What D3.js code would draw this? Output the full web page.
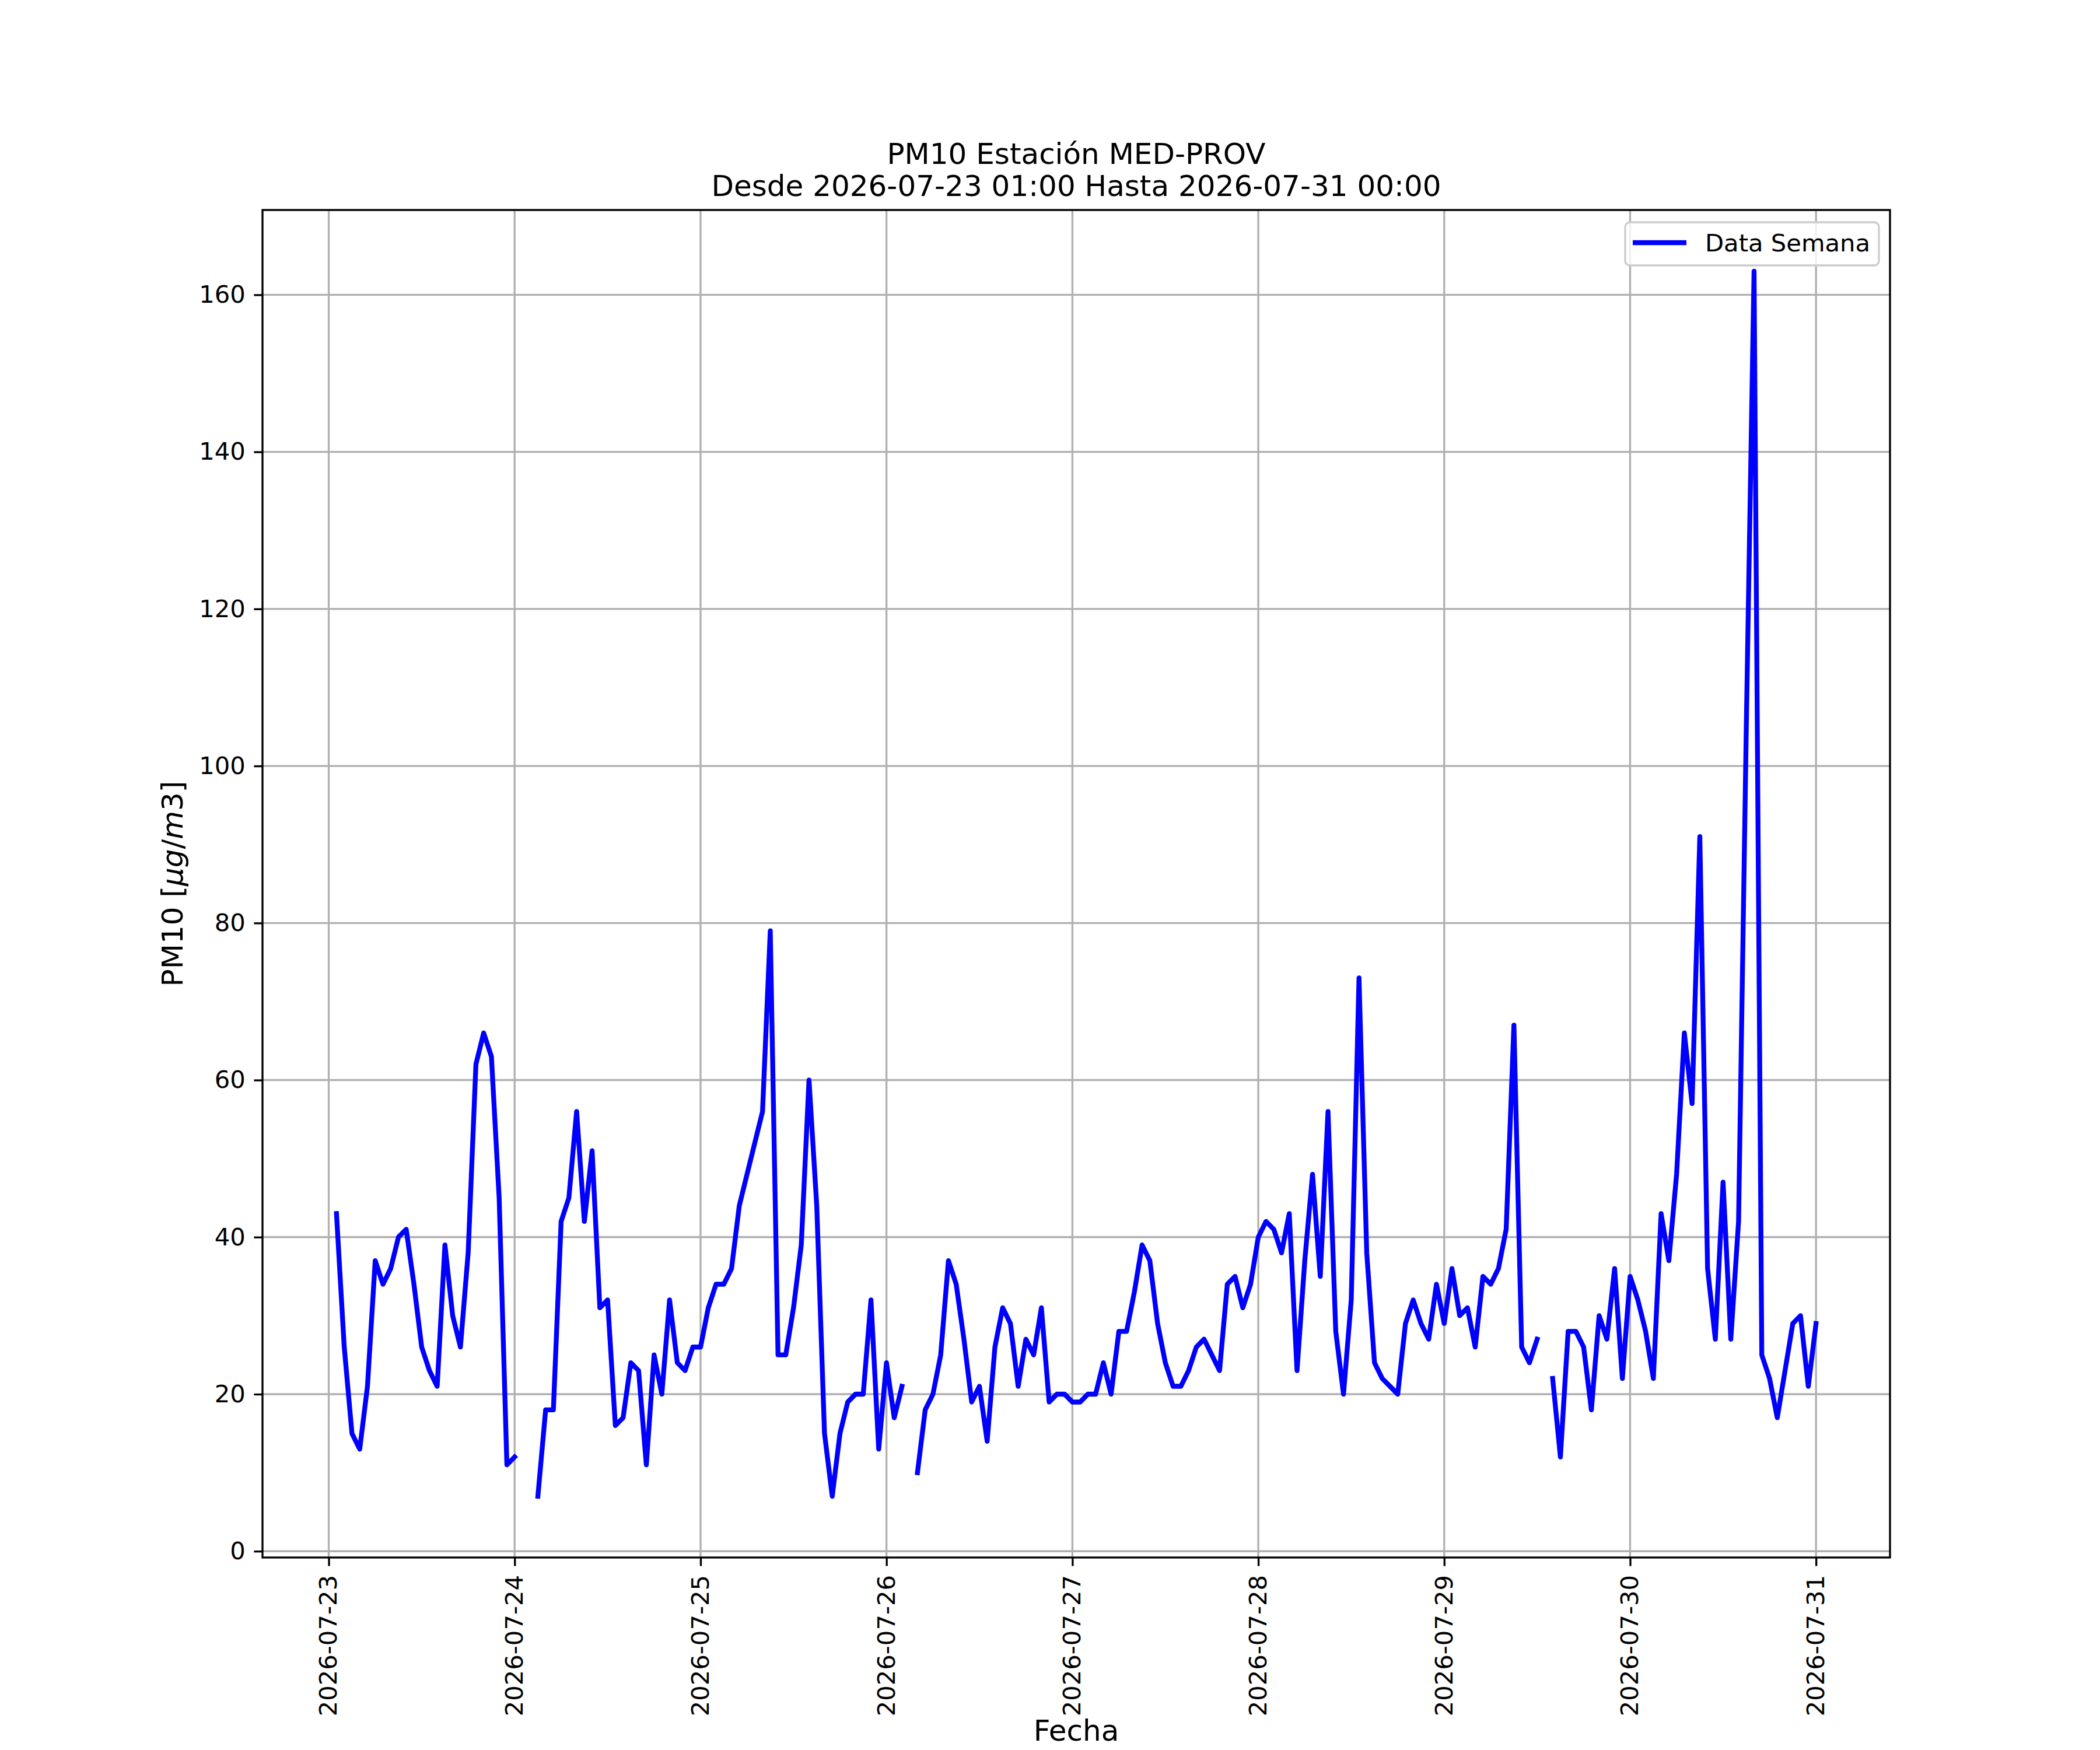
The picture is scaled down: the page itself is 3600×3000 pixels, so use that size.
<!DOCTYPE html>
<html>
<head>
<meta charset="utf-8">
<title>PM10 Estación MED-PROV</title>
<script src="https://cdn.jsdelivr.net/npm/d3@7"></script>
<style>
  body { margin: 0; background: #fff; }
  svg { display: block; font-family: "DejaVu Sans", sans-serif; }
</style>
</head>
<body>
<svg id="chart" width="3600" height="3000"></svg>
<script>
// hourly PM10 readings, one array per day (01:00 .. 24:00), null = no data
var day23 = [43, 26, 15, 13, 21, 37, 34, 36, 40, 41, 34, 26, 23, 21, 39, 30, 26, 38, 62, 66, 63, 45, 11, 12];
var day24 = [null, null, 7, 18, 18, 42, 45, 56, 42, 51, 31, 32, 16, 17, 24, 23, 11, 25, 20, 32, 24, 23, 26, 26];
var day25 = [31, 34, 34, 36, 44, 48, 52, 56, 79, 25, 25, 31, 39, 60, 44, 15, 7, 15, 19, 20, 20, 32, 13, 24];
var day26 = [17, 21, null, 10, 18, 20, 25, 37, 34, 27, 19, 21, 14, 26, 31, 29, 21, 27, 25, 31, 19, 20, 20, 19];
var day27 = [19, 20, 20, 24, 20, 28, 28, 33, 39, 37, 29, 24, 21, 21, 23, 26, 27, 25, 23, 34, 35, 31, 34, 40];
var day28 = [42, 41, 38, 43, 23, 37, 48, 35, 56, 28, 20, 32, 73, 38, 24, 22, 21, 20, 29, 32, 29, 27, 34, 29];
var day29 = [36, 30, 31, 26, 35, 34, 36, 41, 67, 26, 24, 27, null, 22, 12, 28, 28, 26, 18, 30, 27, 36, 22, 35];
var day30 = [32, 28, 22, 43, 37, 48, 66, 57, 91, 36, 27, 47, 27, 42, 105, 163, 25, 22, 17, 23, 29, 30, 21, 29];

var dayStarts = ["2026-07-23", "2026-07-24", "2026-07-25", "2026-07-26",
                 "2026-07-27", "2026-07-28", "2026-07-29", "2026-07-30"];
var yTicks = [0, 20, 40, 60, 80, 100, 120, 140, 160];

var titleLines = ["PM10 Estación MED-PROV", "Desde 2026-07-23 01:00 Hasta 2026-07-31 00:00"];
var seriesName = "Data Semana";

(function() {
  'use strict';

  var svg = d3.select("#chart"),
      margin = {top: 360, right: 360, bottom: 330, left: 450},
      width = +svg.attr("width") - margin.left - margin.right,
      height = +svg.attr("height") - margin.top - margin.bottom,
      g = svg.append("g").attr("transform", "translate(" + margin.left + "," + margin.top + ")");

  var parseDay = d3.utcParse("%Y-%m-%d");
  var days = [day23, day24, day25, day26, day27, day28, day29, day30];

  // flatten to {t, v} records, hour 1..24 of each day
  var data = [];
  days.forEach(function(arr, i) {
    var d0 = parseDay(dayStarts[i]);
    arr.forEach(function(v, h) {
      data.push({t: d3.utcHour.offset(d0, h + 1), v: v});
    });
  });

  var valid = data.filter(function(d) { return d.v != null; });

  // matplotlib style 5% margins
  var tExt = d3.extent(data, function(d) { return d.t; });
  var tPad = (tExt[1] - tExt[0]) * 0.05;
  var vExt = d3.extent(valid, function(d) { return d.v; });
  var vPad = (vExt[1] - vExt[0]) * 0.05;

  var x = d3.scaleUtc()
    .domain([new Date(+tExt[0] - tPad), new Date(+tExt[1] + tPad)])
    .range([0, width]);

  var y = d3.scaleLinear()
    .domain([vExt[0] - vPad, vExt[1] + vPad])
    .range([height, 0]);

  var xTicks = d3.utcDay.range(parseDay(dayStarts[0]), d3.utcDay.offset(parseDay(dayStarts[dayStarts.length - 1]), 2));

  var gridColor = "#b0b0b0", lw = 3.33, fs = 41.7;

  // grid
  g.append("g").selectAll("line")
    .data(xTicks).enter().append("line")
    .attr("x1", function(d) { return x(d); }).attr("x2", function(d) { return x(d); })
    .attr("y1", 0).attr("y2", height)
    .attr("stroke", gridColor).attr("stroke-width", lw);

  g.append("g").selectAll("line")
    .data(yTicks).enter().append("line")
    .attr("x1", 0).attr("x2", width)
    .attr("y1", function(d) { return y(d); }).attr("y2", function(d) { return y(d); })
    .attr("stroke", gridColor).attr("stroke-width", lw);

  // the series
  var line = d3.line()
    .defined(function(d) { return d.v != null; })
    .x(function(d) { return x(d.t); })
    .y(function(d) { return y(d.v); });

  g.append("path")
    .datum(data)
    .attr("d", line)
    .attr("fill", "none")
    .attr("stroke", "#0000ff")
    .attr("stroke-width", 8.33)
    .attr("stroke-linejoin", "round")
    .attr("stroke-linecap", "square");

  // axes
  var xAxis = g.append("g")
    .attr("transform", "translate(0," + height + ")")
    .call(d3.axisBottom(x).tickValues(xTicks).tickFormat(d3.utcFormat("%Y-%m-%d"))
      .tickSize(14.6).tickSizeOuter(0));

  xAxis.selectAll("text")
    .attr("font-size", fs)
    .attr("font-family", "DejaVu Sans")
    .attr("fill", "#000")
    .attr("text-anchor", "end")
    .attr("dy", "0.32em")
    .attr("transform", "translate(0,30) rotate(-90)")
    .attr("x", 0)
    .attr("y", 0);

  var yAxis = g.append("g")
    .call(d3.axisLeft(y).tickValues(yTicks).tickFormat(d3.format("d"))
      .tickSize(14.6).tickPadding(14.6).tickSizeOuter(0));

  yAxis.selectAll("text")
    .attr("font-size", fs)
    .attr("font-family", "DejaVu Sans")
    .attr("fill", "#000");

  [xAxis, yAxis].forEach(function(a) {
    a.select(".domain").remove();
    a.selectAll(".tick line").attr("stroke", "#000").attr("stroke-width", lw);
  });

  // spines
  g.append("rect")
    .attr("width", width).attr("height", height)
    .attr("fill", "none").attr("stroke", "#000").attr("stroke-width", lw);

  // legend
  var lg = g.append("g").attr("transform", "translate(" + (width - 454) + ",21)");
  lg.append("rect")
    .attr("width", 435).attr("height", 74).attr("rx", 8)
    .attr("fill", "#fff").attr("fill-opacity", 0.8)
    .attr("stroke", "#cccccc").attr("stroke-width", 3.33);
  lg.append("line")
    .attr("x1", 13).attr("x2", 105).attr("y1", 35).attr("y2", 35)
    .attr("stroke", "#0000ff").attr("stroke-width", 8.33);
  lg.append("text")
    .attr("x", 137).attr("y", 50)
    .attr("font-size", fs)
    .text(seriesName);

  // title
  svg.append("g").selectAll("text")
    .data(titleLines).enter().append("text")
    .attr("x", margin.left + width / 2)
    .attr("y", function(d, i) { return 281 + i * 55; })
    .attr("text-anchor", "middle")
    .attr("font-size", 50)
    .text(function(d) { return d; });

  // y label with mathtext-like italics
  var yl = svg.append("text")
    .attr("transform", "translate(313," + (margin.top + height / 2) + ") rotate(-90)")
    .attr("text-anchor", "middle")
    .attr("font-size", 50);
  yl.append("tspan").text("PM10 [");
  yl.append("tspan").attr("font-style", "italic").text("μg");
  yl.append("tspan").text("/");
  yl.append("tspan").attr("font-style", "italic").text("m");
  yl.append("tspan").text("3]");

  svg.append("text")
    .attr("x", margin.left + width / 2)
    .attr("y", 2984)
    .attr("text-anchor", "middle")
    .attr("font-size", 50)
    .text("Fecha");
})();
</script>
</body>
</html>
